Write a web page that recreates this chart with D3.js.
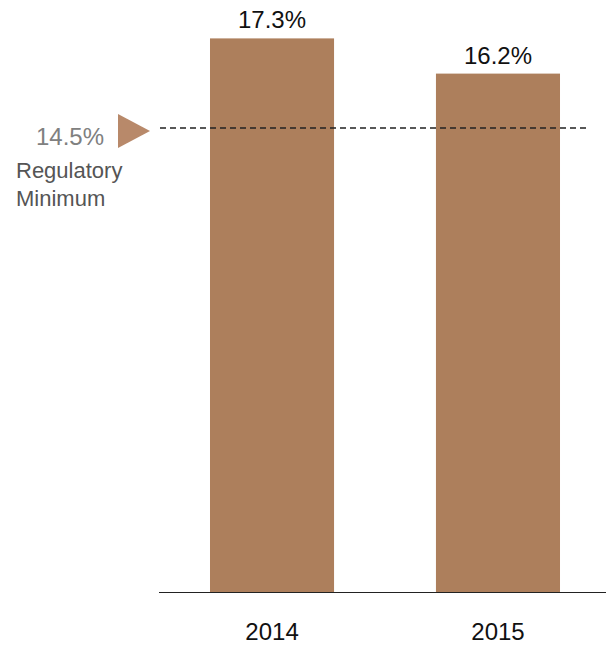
<!DOCTYPE html>
<html>
<head>
<meta charset="utf-8">
<script src="https://cdn.jsdelivr.net/npm/d3@7"></script>
<style>
  html, body { margin: 0; padding: 0; background: #fff; }
  svg { display: block; font-family: "Liberation Sans", Arial, sans-serif; }
</style>
</head>
<body>
<svg id="chart" width="606" height="647"></svg>
<script>
// Capital ratio by year, with the regulatory minimum as a reference line
const years = ["2014", "2015"];
const ratios = [17.3, 16.2];
const minimumRatio = 14.5;
const minimumLabel = ["Regulatory", "Minimum"];

const W = 606, H = 647;
const baseY = 592;

const svg = d3.select("#chart");

const x = d3.scaleBand()
  .domain(years)
  .range([159, 611])
  .paddingInner(0.451)
  .paddingOuter(0.2257);

const y = d3.scaleLinear()
  .domain([0, 18.5])
  .range([baseY, 0]);

const fmt = v => v.toFixed(1) + "%";

// bars
svg.append("g").selectAll("rect")
  .data(years)
  .join("rect")
  .attr("x", d => x(d))
  .attr("width", x.bandwidth())
  .attr("y", (d, i) => y(ratios[i]))
  .attr("height", (d, i) => baseY - y(ratios[i]))
  .attr("fill", "#ad7f5c");

// value labels
svg.append("g").selectAll("text")
  .data(years)
  .join("text")
  .attr("x", d => x(d) + x.bandwidth() / 2)
  .attr("y", (d, i) => y(ratios[i]) - 10)
  .attr("text-anchor", "middle")
  .attr("font-size", 24)
  .attr("fill", "#111")
  .text((d, i) => fmt(ratios[i]));

// x axis: baseline and year labels
const xAxis = d3.axisBottom(x).tickSize(0).tickPadding(31);
const gx = svg.append("g")
  .attr("transform", `translate(0,${baseY})`)
  .call(xAxis);
gx.select(".domain").remove();
gx.selectAll("text")
  .attr("font-size", 24)
  .attr("font-family", "Liberation Sans, Arial, sans-serif")
  .attr("fill", "#111");

svg.append("line")
  .attr("x1", 159).attr("x2", W)
  .attr("y1", baseY + 0.5).attr("y2", baseY + 0.5)
  .attr("stroke", "#222")
  .attr("stroke-width", 1.2);

// regulatory minimum reference
const ly = y(minimumRatio);

svg.append("line")
  .attr("x1", 160).attr("x2", 587)
  .attr("y1", ly).attr("y2", ly)
  .attr("stroke", "#222")
  .attr("stroke-width", 1.4)
  .attr("stroke-dasharray", "6,4");

svg.append("path")
  .attr("d", d3.line()([[118, ly - 14], [150, ly + 3], [118, ly + 20]]) + "Z")
  .attr("fill", "#b8896a");

svg.append("text")
  .attr("x", 104)
  .attr("y", ly + 17)
  .attr("text-anchor", "end")
  .attr("font-size", 24)
  .attr("fill", "#808080")
  .text(fmt(minimumRatio));

svg.append("text")
  .attr("x", 16)
  .attr("y", ly + 50)
  .attr("font-size", 22)
  .attr("fill", "#555")
  .selectAll("tspan")
  .data(minimumLabel)
  .join("tspan")
  .attr("x", 16)
  .attr("dy", (d, i) => i === 0 ? 0 : 28)
  .text(d => d);
</script>
</body>
</html>
